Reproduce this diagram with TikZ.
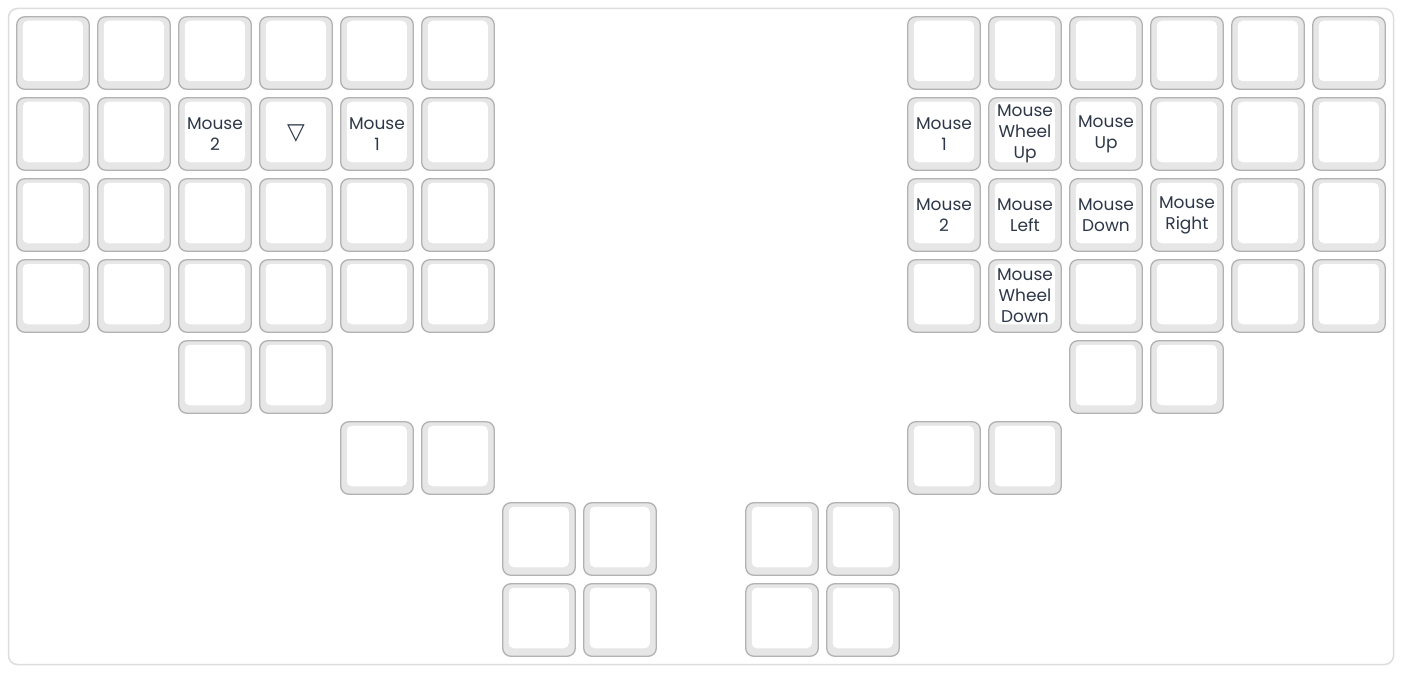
\documentclass[tikz,border=0pt]{standalone}
\usepackage{fontspec}
\setmainfont{Poppins}
\newfontfamily\symfont{DejaVu Sans}
\usepackage{tikz}
\usetikzlibrary{positioning}
\definecolor{keyedge}{HTML}{B2B2B2}
\definecolor{keyside}{HTML}{E6E6E6}
\definecolor{boardedge}{HTML}{DDDDDD}
\definecolor{legend}{HTML}{2D3748}
\tikzstyle{keycap} = [rectangle, rounded corners=8pt, draw=keyedge, fill=keyside, line width=1.3pt,
  minimum width=72.5pt, minimum height=72.5pt, inner sep=0pt, align=center, text=legend,
  font=\fontsize{17}{21}\selectfont,
  path picture={\fill[white,rounded corners=5pt]
    ([xshift=6pt,yshift=8pt]path picture bounding box.south west) rectangle
    ([xshift=-6.5pt,yshift=-4pt]path picture bounding box.north east);}]

\begin{document}
\begin{tikzpicture}[x=1pt,y=-1pt]
\useasboundingbox (0,0) rectangle (1402,674);
\node[draw=boardedge, fill=white, line width=1.5pt, rounded corners=9pt,
  minimum width=1385pt, minimum height=656pt, inner sep=0pt] (board) at (701,336.5) {};

% left half
\foreach \c/\t in {0/{},1/{},2/{},3/{},4/{},5/{}}
  \node[keycap] (L0\c) at (53+81*\c,53) {\t};
\foreach \c/\t in {0/{},1/{},2/{Mouse\\2},3/{\symfont\fontsize{23}{23}\selectfont ▽},4/{Mouse\\1},5/{}}
  \node[keycap] (L1\c) at (53+81*\c,134) {\t};
\foreach \c/\t in {0/{},1/{},2/{},3/{},4/{},5/{}}
  \node[keycap] (L2\c) at (53+81*\c,215) {\t};
\foreach \c/\t in {0/{},1/{},2/{},3/{},4/{},5/{}}
  \node[keycap] (L3\c) at (53+81*\c,296) {\t};
\foreach \c in {2,3}
  \node[keycap] (L4\c) at (53+81*\c,377) {};
\foreach \c in {4,5}
  \node[keycap] (L5\c) at (53+81*\c,458) {};

% right half
\foreach \c/\t in {0/{},1/{},2/{},3/{},4/{},5/{}}
  \node[keycap] (R0\c) at (944+81*\c,53) {\t};
\foreach \c/\t in {0/{Mouse\\1},1/{Mouse\\Wheel\\Up},2/{Mouse\\Up},3/{},4/{},5/{}}
  \node[keycap] (R1\c) at (944+81*\c,134) {\t};
\foreach \c/\t in {0/{Mouse\\2},1/{Mouse\\Left},2/{Mouse\\Down},3/{Mouse\\Right},4/{},5/{}}
  \node[keycap] (R2\c) at (944+81*\c,215) {\t};
\foreach \c/\t in {0/{},1/{Mouse\\Wheel\\Down},2/{},3/{},4/{},5/{}}
  \node[keycap] (R3\c) at (944+81*\c,296) {\t};
\foreach \c in {2,3}
  \node[keycap] (R4\c) at (944+81*\c,377) {};
\foreach \c in {0,1}
  \node[keycap] (R5\c) at (944+81*\c,458) {};

% thumb clusters
\foreach \r in {6,7} {
  \node[keycap] (TL\r a) at (539,53+81*\r) {};
  \node[keycap] (TL\r b) at (620,53+81*\r) {};
  \node[keycap] (TR\r a) at (782,53+81*\r) {};
  \node[keycap] (TR\r b) at (863,53+81*\r) {};
}
\end{tikzpicture}
\end{document}
